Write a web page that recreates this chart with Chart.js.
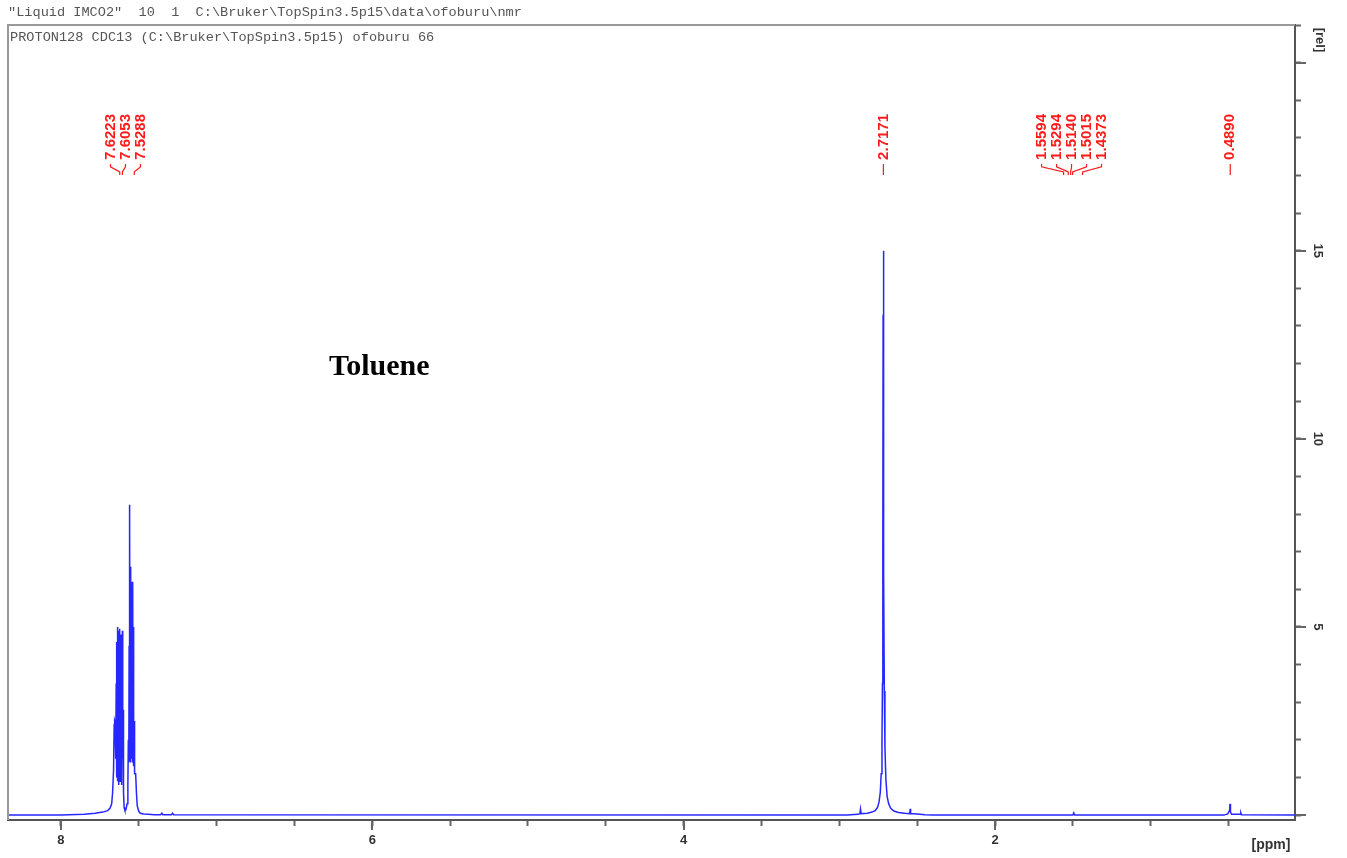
<!DOCTYPE html>
<html>
<head>
<meta charset="utf-8">
<script src="https://cdn.jsdelivr.net/npm/chart.js@4.4.1/dist/chart.umd.min.js"></script>
<style>
  html, body { margin: 0; padding: 0; background: #fff; }
  canvas { display: block; }
</style>
</head>
<body>
<canvas id="grafico" width="1347" height="858"></canvas>
<script>
// espectro 1H (ppm, intensidad rel), trazado de izquierda a derecha
const ppm = [
  8.34, 8.00, 7.85, 7.78, 7.73, 7.70, 7.685, 7.674, 7.668, 7.662,
  7.658, 7.655, 7.652, 7.649, 7.647, 7.645, 7.643, 7.641, 7.639, 7.637,
  7.635, 7.633, 7.631, 7.629, 7.627, 7.625, 7.6235, 7.6223, 7.620, 7.618,
  7.616, 7.614, 7.612, 7.610, 7.608, 7.6053, 7.603, 7.601, 7.598, 7.594,
  7.589, 7.582, 7.575, 7.570, 7.567, 7.564, 7.562, 7.560, 7.558, 7.556,
  7.554, 7.552, 7.550, 7.548, 7.546, 7.544, 7.542, 7.540, 7.538, 7.536,
  7.534, 7.532, 7.5305, 7.5288, 7.525, 7.520, 7.515, 7.510, 7.500, 7.49,
  7.47, 7.44, 7.40, 7.36, 7.352, 7.345, 7.29, 7.283, 7.276,
  2.95, 2.88, 2.868, 2.864, 2.860, 2.82, 2.79, 2.77, 2.755,
  2.745, 2.737, 2.731, 2.726, 2.723, 2.7205, 2.7188, 2.7171, 2.7155, 2.714,
  2.711, 2.707, 2.701, 2.693, 2.683, 2.67, 2.65, 2.62, 2.58, 2.548,
  2.545, 2.542, 2.50, 2.45, 2.40, 1.50, 1.494, 1.488, 0.53, 0.505,
  0.497, 0.493, 0.4905, 0.4875, 0.48, 0.425, 0.421, 0.417, 0.073
];
const intensidad = [
  0, 0, 0.02, 0.05, 0.08, 0.12, 0.18, 0.3, 0.6, 1.2,
  2.4, 2.5, 2.45, 2.5, 1.5, 3.5, 1.0, 4.6, 1.5, 5.0,
  0.9, 4.9, 1.2, 4.7, 0.8, 4.6, 1.0, 4.95, 0.9, 4.6,
  1.1, 4.8, 0.8, 4.7, 1.0, 4.9, 1.5, 2.8, 0.6, 0.2,
  0.13, 0.15, 0.3, 0.8, 2.0, 1.4, 4.5, 1.5, 8.25, 1.5,
  6.6, 1.4, 5.5, 1.6, 6.1, 1.5, 6.2, 1.4, 6.0, 1.6,
  5.0, 1.3, 2.5, 1.15, 1.1, 1.1, 0.6, 0.25, 0.1, 0.05,
  0.03, 0.02, 0.01, 0.01, 0.05, 0.01, 0.01, 0.05, 0.01,
  0, 0.02, 0.04, 0.16, 0.04, 0.05, 0.08, 0.12, 0.2,
  0.35, 0.6, 1.1, 2.0, 3.5, 7.2, 13.3, 15.0, 13.0, 6.5,
  3.3, 1.8, 0.95, 0.5, 0.3, 0.18, 0.11, 0.07, 0.05, 0.04,
  0.17, 0.04, 0.03, 0.01, 0, 0, 0.06, 0, 0, 0.03,
  0.1, 0.11, 0.3, 0.08, 0.02, 0.02, 0.06, 0.01, 0
];

// picos marcados
const picos = [7.6223, 7.6053, 7.5288, 2.7171, 1.5594, 1.5294, 1.5140, 1.5015, 1.4373, 0.4890];
const etiquetasPicos = ['7.6223', '7.6053', '7.5288', '2.7171', '1.5594', '1.5294', '1.5140', '1.5015', '1.4373', '0.4890'];

// ejes
const ticksPpm = [8, 6, 4, 2];
const ticksRel = [5, 10, 15];

const cabecera1 = '"Liquid IMCO2"  10  1  C:\\Bruker\\TopSpin3.5p15\\data\\ofoburu\\nmr';
const cabecera2 = 'PROTON128 CDC13 (C:\\Bruker\\TopSpin3.5p15) ofoburu 66';
const muestra = 'Toluene';

const puntos = ppm.map((x, i) => ({ x: x, y: intensidad[i] }));

// reparte las etiquetas para que no se pisen (grupos centrados en su media)
function repartir(xs, sep) {
  let grupos = xs.map(x => ({ xs: [x] }));
  let cambio = true;
  while (cambio) {
    cambio = false;
    grupos.forEach(g => {
      const m = g.xs.reduce((a, b) => a + b, 0) / g.xs.length;
      g.ini = m - (g.xs.length - 1) * sep / 2;
      g.fin = m + (g.xs.length - 1) * sep / 2;
    });
    for (let i = 0; i < grupos.length - 1; i++) {
      if (grupos[i + 1].ini - grupos[i].fin < sep) {
        grupos[i].xs = grupos[i].xs.concat(grupos[i + 1].xs);
        grupos.splice(i + 1, 1);
        cambio = true;
        break;
      }
    }
  }
  const res = [];
  grupos.forEach(g => g.xs.forEach((_, k) => res.push(g.ini + k * sep)));
  return res;
}

const anotaciones = {
  id: 'anotaciones',
  afterDraw(chart) {
    const ctx = chart.ctx;
    const a = chart.chartArea;
    const sx = chart.scales.x;
    const sy = chart.scales.y;
    ctx.save();

    // marco superior e izquierdo
    ctx.strokeStyle = '#999';
    ctx.lineWidth = 2;
    ctx.beginPath();
    ctx.moveTo(a.left, a.bottom);
    ctx.lineTo(a.left, a.top);
    ctx.lineTo(a.right, a.top);
    ctx.stroke();

    // marcas principales algo mas largas
    ctx.strokeStyle = '#666';
    ctx.beginPath();
    for (let v = 2; v <= 8; v += 2) {
      const px = Math.round(sx.getPixelForValue(v));
      ctx.moveTo(px, a.bottom + 1);
      ctx.lineTo(px, a.bottom + 10);
    }
    for (let v = 0; v <= 20; v += 5) {
      const py = Math.round(sy.getPixelForValue(v));
      ctx.moveTo(a.right + 1, py);
      ctx.lineTo(a.right + 11, py);
    }
    ctx.stroke();

    // cabeceras
    ctx.fillStyle = '#555';
    ctx.font = '13.6px "Liberation Mono", monospace';
    ctx.textBaseline = 'middle';
    ctx.textAlign = 'left';
    ctx.fillText(cabecera1, 8, 12);
    ctx.fillText(cabecera2, 10, 37);

    // etiquetas del eje derecho (giradas)
    ctx.fillStyle = '#333';
    ctx.font = 'bold 13px "Liberation Sans", Arial';
    ctx.textAlign = 'center';
    ticksRel.forEach(v => {
      ctx.save();
      ctx.translate(1318, sy.getPixelForValue(v));
      ctx.rotate(Math.PI / 2);
      ctx.fillText(String(v), 0, 0);
      ctx.restore();
    });
    ctx.save();
    ctx.translate(1320, 40);
    ctx.rotate(Math.PI / 2);
    ctx.fillText('[rel]', 0, 0);
    ctx.restore();
    ctx.font = 'bold 14px "Liberation Sans", Arial';
    ctx.fillText('[ppm]', 1271, 845);

    // nombre de la muestra
    ctx.fillStyle = '#000';
    ctx.font = 'bold 30px "Liberation Serif", "Times New Roman", serif';
    ctx.textAlign = 'left';
    ctx.fillText(muestra, 329, 367);

    // etiquetas de picos
    const xp = picos.map(p => sx.getPixelForValue(p));
    const xl = repartir(xp, 15);
    ctx.font = 'bold 15px "Liberation Sans", Arial';
    ctx.fillStyle = '#ff1a1a';
    ctx.strokeStyle = '#ff1a1a';
    ctx.lineWidth = 1.2;
    const arriba = 114;
    etiquetasPicos.forEach((t, i) => {
      const w = ctx.measureText(t).width;
      ctx.save();
      ctx.translate(xl[i], arriba);
      ctx.rotate(-Math.PI / 2);
      ctx.textAlign = 'right';
      ctx.textBaseline = 'middle';
      ctx.fillText(t, 0, 0);
      ctx.restore();
      const y0 = arriba + w + 4;
      ctx.beginPath();
      ctx.moveTo(xl[i], y0);
      ctx.lineTo(xl[i], y0 + 3);
      ctx.lineTo(xp[i], y0 + 8);
      ctx.lineTo(xp[i], y0 + 11);
      ctx.stroke();
    });
    ctx.restore();
  }
};

const ctx = document.getElementById('grafico').getContext('2d');

new Chart(ctx, {
  type: 'line',
  data: {
    datasets: [{
      data: puntos,
      borderColor: '#2626ff',
      borderWidth: 1.5,
      pointRadius: 0,
      tension: 0,
      fill: false
    }]
  },
  options: {
    responsive: false,
    devicePixelRatio: 1,
    animation: false,
    layout: { padding: { left: 8, top: 25, right: 0, bottom: 0 } },
    plugins: { legend: { display: false }, tooltip: { enabled: false } },
    scales: {
      x: {
        type: 'linear',
        reverse: true,
        min: 0.073,
        max: 8.34,
        afterFit: s => { s.height = 38; },
        border: { color: '#555', width: 2 },
        grid: { drawOnChartArea: false, tickLength: 6, tickColor: '#666', tickWidth: 2 },
        ticks: {
          stepSize: 0.5,
          includeBounds: false,
          autoSkip: false,
          maxRotation: 0,
          padding: 7,
          color: '#333',
          font: { family: '"Liberation Sans", Arial', size: 13, weight: 'bold' },
          callback: v => ticksPpm.includes(v) ? String(v) : ''
        }
      },
      y: {
        type: 'linear',
        position: 'right',
        min: -0.13,
        max: 21.0,
        afterFit: s => { s.width = 52; },
        border: { color: '#555', width: 2 },
        grid: { drawOnChartArea: false, tickLength: 6, tickColor: '#666', tickWidth: 2 },
        ticks: {
          stepSize: 1,
          includeBounds: false,
          autoSkip: false,
          callback: () => ''
        }
      }
    }
  },
  plugins: [anotaciones]
});
</script>
</body>
</html>
